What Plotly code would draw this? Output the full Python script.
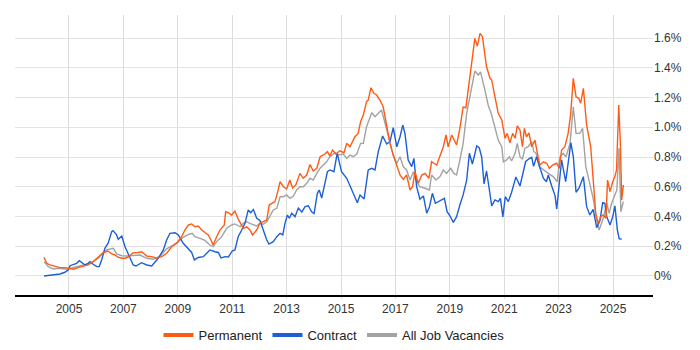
import plotly.graph_objects as go

# ---- data (x = decimal year, y = percent of job vacancies) ----
perm_years = [2004.08, 2004.18, 2004.30, 2004.49, 2004.67, 2004.85, 2005.04, 2005.16, 2005.33, 2005.51,
              2005.70, 2005.88, 2006.02, 2006.14, 2006.25, 2006.43, 2006.57, 2006.69, 2006.80, 2006.94,
              2007.06, 2007.17, 2007.35, 2007.54, 2007.67, 2007.86, 2008.04, 2008.22, 2008.41, 2008.59,
              2008.78, 2008.96, 2009.14, 2009.26, 2009.39, 2009.51, 2009.63, 2009.75, 2009.88, 2010.00,
              2010.12, 2010.22, 2010.30, 2010.43, 2010.55, 2010.71, 2010.76, 2010.86, 2010.98, 2011.10,
              2011.22, 2011.41, 2011.53, 2011.65, 2011.75, 2011.90, 2012.02, 2012.14, 2012.27, 2012.36,
              2012.45, 2012.57, 2012.66, 2012.76, 2012.88, 2013.00, 2013.12, 2013.22, 2013.34, 2013.49,
              2013.61, 2013.74, 2013.86, 2013.98, 2014.11, 2014.23, 2014.33, 2014.41, 2014.50, 2014.59,
              2014.69, 2014.81, 2014.96, 2015.11, 2015.21, 2015.33, 2015.51, 2015.63, 2015.72, 2015.82,
              2015.94, 2016.00, 2016.10, 2016.21, 2016.31, 2016.43, 2016.55, 2016.68, 2016.80, 2016.92,
              2017.05, 2017.17, 2017.29, 2017.41, 2017.54, 2017.63, 2017.72, 2017.84, 2017.97, 2018.09,
              2018.23, 2018.33, 2018.52, 2018.64, 2018.76, 2018.86, 2018.94, 2019.07, 2019.25, 2019.37,
              2019.49, 2019.59, 2019.68, 2019.80, 2019.92, 2020.01, 2020.11, 2020.20, 2020.35, 2020.48,
              2020.54, 2020.66, 2020.78, 2020.91, 2021.03, 2021.11, 2021.21, 2021.31, 2021.40, 2021.48,
              2021.58, 2021.67, 2021.74, 2021.82, 2021.91, 2022.01, 2022.13, 2022.22, 2022.31, 2022.44,
              2022.56, 2022.66, 2022.78, 2022.93, 2023.02, 2023.11, 2023.23, 2023.35, 2023.44, 2023.54,
              2023.64, 2023.74, 2023.81, 2023.91, 2024.03, 2024.18, 2024.27, 2024.37, 2024.46, 2024.55,
              2024.64, 2024.74, 2024.80, 2024.89, 2024.99, 2025.07, 2025.13, 2025.21, 2025.27, 2025.32,
              2025.38]
perm_vals = [0.126, 0.085, 0.074, 0.063, 0.056, 0.056, 0.052, 0.045, 0.056, 0.063,
             0.074, 0.096, 0.119, 0.141, 0.155, 0.168, 0.148, 0.141, 0.126, 0.119,
             0.119, 0.126, 0.155, 0.158, 0.163, 0.134, 0.130, 0.119, 0.130, 0.153,
             0.197, 0.220, 0.264, 0.309, 0.343, 0.350, 0.331, 0.336, 0.309, 0.292,
             0.276, 0.242, 0.208, 0.264, 0.309, 0.343, 0.432, 0.426, 0.410, 0.437,
             0.383, 0.319, 0.331, 0.309, 0.276, 0.309, 0.356, 0.365, 0.376, 0.477,
             0.489, 0.500, 0.556, 0.634, 0.600, 0.585, 0.645, 0.592, 0.612, 0.690,
             0.657, 0.679, 0.750, 0.706, 0.724, 0.800, 0.813, 0.820, 0.836, 0.807,
             0.847, 0.820, 0.842, 0.829, 0.892, 0.869, 0.936, 0.959, 1.037, 1.082,
             1.172, 1.183, 1.266, 1.228, 1.217, 1.183, 1.138, 1.004, 0.892, 0.813,
             0.735, 0.679, 0.650, 0.679, 0.578, 0.600, 0.701, 0.623, 0.679, 0.690,
             0.657, 0.768, 0.746, 0.802, 0.869, 0.948, 0.869, 0.948, 0.881, 0.993,
             1.136, 1.131, 1.250, 1.430, 1.598, 1.546, 1.632, 1.609, 1.407, 1.329,
             1.318, 1.205, 1.094, 1.049, 0.926, 0.959, 0.896, 0.959, 0.926, 1.010,
             0.981, 0.869, 0.993, 0.936, 0.963, 0.869, 0.914, 0.825, 0.746, 0.768,
             0.758, 0.724, 0.746, 0.758, 0.724, 0.847, 0.869, 0.959, 1.082, 1.329,
             1.205, 1.195, 1.161, 1.262, 1.015, 0.869, 0.623, 0.410, 0.354, 0.399,
             0.410, 0.388, 0.645, 0.567, 0.634, 0.668, 0.713, 1.150, 0.892, 0.511,
             0.612]

contract_years = [2004.08, 2004.30, 2004.49, 2004.67, 2004.85, 2004.97, 2005.04, 2005.16, 2005.28, 2005.38,
                  2005.47, 2005.59, 2005.71, 2005.77, 2005.89, 2006.02, 2006.11, 2006.20, 2006.32, 2006.44,
                  2006.57, 2006.62, 2006.75, 2006.81, 2006.94, 2007.06, 2007.18, 2007.36, 2007.46, 2007.67,
                  2007.86, 2008.04, 2008.28, 2008.47, 2008.59, 2008.71, 2008.90, 2009.02, 2009.20, 2009.39,
                  2009.51, 2009.61, 2009.75, 2009.94, 2010.06, 2010.18, 2010.37, 2010.49, 2010.59, 2010.74,
                  2010.86, 2011.00, 2011.10, 2011.22, 2011.35, 2011.47, 2011.59, 2011.68, 2011.78, 2011.90,
                  2012.02, 2012.14, 2012.27, 2012.35, 2012.51, 2012.64, 2012.76, 2012.86, 2012.94, 2013.03,
                  2013.10, 2013.19, 2013.31, 2013.43, 2013.56, 2013.68, 2013.80, 2013.92, 2014.01, 2014.13,
                  2014.20, 2014.29, 2014.41, 2014.50, 2014.59, 2014.74, 2014.86, 2015.02, 2015.21, 2015.33,
                  2015.45, 2015.60, 2015.70, 2015.85, 2016.00, 2016.13, 2016.25, 2016.37, 2016.53, 2016.68,
                  2016.80, 2016.92, 2017.05, 2017.17, 2017.27, 2017.35, 2017.47, 2017.60, 2017.68, 2017.78,
                  2017.90, 2018.03, 2018.15, 2018.25, 2018.36, 2018.47, 2018.70, 2018.80, 2018.90, 2019.01,
                  2019.13, 2019.25, 2019.37, 2019.49, 2019.62, 2019.72, 2019.83, 2019.99, 2020.08, 2020.17,
                  2020.26, 2020.35, 2020.45, 2020.54, 2020.66, 2020.78, 2020.86, 2020.95, 2021.04, 2021.15,
                  2021.27, 2021.43, 2021.58, 2021.70, 2021.79, 2021.91, 2022.01, 2022.08, 2022.19, 2022.31,
                  2022.44, 2022.55, 2022.62, 2022.74, 2022.87, 2022.93, 2022.99, 2023.11, 2023.26, 2023.35,
                  2023.45, 2023.54, 2023.64, 2023.75, 2023.91, 2024.03, 2024.15, 2024.27, 2024.40, 2024.52,
                  2024.62, 2024.70, 2024.77, 2024.89, 2024.99, 2025.07, 2025.16, 2025.23, 2025.32]
contract_vals = [0.000, 0.005, 0.007, 0.013, 0.025, 0.040, 0.069, 0.079, 0.085, 0.103,
                 0.089, 0.074, 0.085, 0.096, 0.079, 0.063, 0.063, 0.108, 0.186, 0.220,
                 0.298, 0.305, 0.276, 0.247, 0.269, 0.197, 0.148, 0.074, 0.067, 0.089,
                 0.074, 0.067, 0.119, 0.175, 0.242, 0.287, 0.291, 0.276, 0.220, 0.186,
                 0.158, 0.108, 0.124, 0.130, 0.153, 0.175, 0.163, 0.158, 0.121, 0.130,
                 0.128, 0.168, 0.175, 0.264, 0.309, 0.354, 0.444, 0.426, 0.447, 0.388,
                 0.373, 0.309, 0.242, 0.214, 0.231, 0.264, 0.287, 0.276, 0.354, 0.410,
                 0.388, 0.422, 0.399, 0.457, 0.430, 0.466, 0.472, 0.432, 0.420, 0.556,
                 0.578, 0.524, 0.623, 0.701, 0.713, 0.701, 0.825, 0.701, 0.657, 0.612,
                 0.556, 0.493, 0.545, 0.518, 0.713, 0.724, 0.713, 0.836, 0.941, 0.887,
                 0.903, 0.997, 0.869, 0.936, 1.015, 0.959, 0.780, 0.735, 0.791, 0.600,
                 0.516, 0.538, 0.422, 0.464, 0.556, 0.489, 0.511, 0.522, 0.432, 0.403,
                 0.360, 0.399, 0.477, 0.545, 0.645, 0.825, 0.753, 0.874, 0.862, 0.802,
                 0.619, 0.706, 0.585, 0.471, 0.511, 0.500, 0.522, 0.397, 0.533, 0.500,
                 0.561, 0.666, 0.605, 0.690, 0.770, 0.788, 0.798, 0.737, 0.802, 0.729,
                 0.657, 0.634, 0.679, 0.608, 0.539, 0.450, 0.556, 0.780, 0.634, 0.768,
                 0.896, 0.802, 0.563, 0.590, 0.668, 0.466, 0.410, 0.448, 0.325, 0.372,
                 0.493, 0.489, 0.399, 0.343, 0.399, 0.471, 0.309, 0.250, 0.248]

all_years = [2004.09, 2004.24, 2004.42, 2004.67, 2004.92, 2005.16, 2005.40, 2005.65, 2005.89, 2006.08,
             2006.26, 2006.39, 2006.63, 2006.75, 2006.94, 2007.12, 2007.36, 2007.61, 2007.86, 2008.10,
             2008.35, 2008.59, 2008.83, 2009.02, 2009.20, 2009.39, 2009.53, 2009.63, 2009.82, 2010.00,
             2010.18, 2010.30, 2010.43, 2010.61, 2010.80, 2010.98, 2011.10, 2011.29, 2011.41, 2011.53,
             2011.65, 2011.78, 2011.90, 2012.02, 2012.14, 2012.27, 2012.39, 2012.51, 2012.64, 2012.76,
             2012.88, 2013.00, 2013.12, 2013.25, 2013.37, 2013.49, 2013.61, 2013.74, 2013.86, 2013.98,
             2014.11, 2014.23, 2014.35, 2014.47, 2014.59, 2014.78, 2014.90, 2015.08, 2015.21, 2015.33,
             2015.45, 2015.58, 2015.72, 2015.82, 2015.94, 2016.13, 2016.25, 2016.37, 2016.49, 2016.62,
             2016.74, 2016.92, 2017.05, 2017.17, 2017.29, 2017.41, 2017.54, 2017.66, 2017.78, 2017.90,
             2018.09, 2018.25, 2018.33, 2018.49, 2018.64, 2018.76, 2018.88, 2019.03, 2019.15, 2019.25,
             2019.37, 2019.49, 2019.62, 2019.74, 2019.84, 2019.92, 2020.05, 2020.13, 2020.29, 2020.41,
             2020.54, 2020.66, 2020.78, 2020.91, 2020.97, 2021.09, 2021.19, 2021.27, 2021.40, 2021.48,
             2021.58, 2021.67, 2021.76, 2021.88, 2022.01, 2022.09, 2022.17, 2022.29, 2022.44, 2022.62,
             2022.80, 2022.95, 2023.05, 2023.17, 2023.27, 2023.42, 2023.54, 2023.64, 2023.78, 2023.88,
             2024.00, 2024.15, 2024.27, 2024.40, 2024.49, 2024.58, 2024.64, 2024.77, 2024.86, 2024.95,
             2025.04, 2025.14, 2025.22, 2025.29, 2025.38]
all_vals = [0.096, 0.063, 0.047, 0.052, 0.045, 0.058, 0.067, 0.079, 0.096, 0.119,
            0.157, 0.175, 0.186, 0.148, 0.136, 0.134, 0.136, 0.141, 0.119, 0.112,
            0.134, 0.182, 0.208, 0.231, 0.260, 0.279, 0.287, 0.264, 0.253, 0.239,
            0.208, 0.197, 0.231, 0.264, 0.321, 0.343, 0.350, 0.331, 0.354, 0.365,
            0.354, 0.343, 0.336, 0.354, 0.348, 0.365, 0.410, 0.444, 0.455, 0.533,
            0.533, 0.545, 0.522, 0.538, 0.578, 0.600, 0.600, 0.623, 0.657, 0.645,
            0.690, 0.724, 0.746, 0.768, 0.802, 0.829, 0.813, 0.820, 0.791, 0.813,
            0.802, 0.820, 0.892, 0.892, 1.004, 1.098, 1.071, 1.094, 1.116, 1.027,
            0.936, 0.813, 0.758, 0.802, 0.735, 0.713, 0.645, 0.701, 0.634, 0.600,
            0.590, 0.578, 0.679, 0.645, 0.668, 0.713, 0.690, 0.724, 0.690, 0.679,
            0.780, 0.892, 1.094, 1.217, 1.318, 1.378, 1.351, 1.373, 1.250, 1.150,
            1.082, 0.993, 0.914, 0.869, 0.768, 0.780, 0.802, 0.773, 0.825, 0.892,
            0.802, 0.785, 0.858, 0.869, 0.903, 0.836, 0.825, 0.735, 0.713, 0.690,
            0.668, 0.634, 0.802, 0.825, 0.802, 0.892, 1.138, 0.959, 0.959, 0.993,
            0.735, 0.623, 0.522, 0.376, 0.309, 0.354, 0.388, 0.489, 0.422, 0.489,
            0.533, 0.578, 0.858, 0.432, 0.500]

series_names = ["Permanent", "Contract", "All Job Vacancies"]
series_colors = ["#ff5b14", "#1c5fd8", "#a3a3a3"]

year_ticks = [2005, 2007, 2009, 2011, 2013, 2015, 2017, 2019, 2021, 2023, 2025]
pct_ticks = [0, 0.2, 0.4, 0.6, 0.8, 1.0, 1.2, 1.4, 1.6]
pct_labels = ["0%", "0.2%", "0.4%", "0.6%", "0.8%", "1.0%", "1.2%", "1.4%", "1.6%"]

fig = go.Figure()

data_sets = [(perm_years, perm_vals), (contract_years, contract_vals), (all_years, all_vals)]
# draw order: gray behind, then blue, then orange on top
for idx in [2, 1, 0]:
    xs, ys = data_sets[idx]
    fig.add_trace(go.Scatter(x=xs, y=ys, mode="lines", name=series_names[idx],
                             line=dict(color=series_colors[idx], width=1.4),
                             showlegend=False, hoverinfo="x+y"))

# legend entries with thick swatches
for idx in [0, 1, 2]:
    fig.add_trace(go.Scatter(x=[None], y=[None], mode="lines", name=series_names[idx],
                             line=dict(color=series_colors[idx], width=4), showlegend=True))

fig.update_layout(
    width=700, height=350,
    margin=dict(l=15, r=47, t=15, b=55),
    paper_bgcolor="white", plot_bgcolor="white",
    font=dict(family="Liberation Sans, Arial, sans-serif", size=12, color="#333333"),
    legend=dict(orientation="h", x=0.5, xanchor="center", xref="paper",
                y=0.043, yanchor="middle", yref="container",
                font=dict(size=13, color="#222222"), itemwidth=30,
                traceorder="normal", bgcolor="rgba(0,0,0,0)"),
    xaxis=dict(range=[2003.015, 2026.47], tickvals=year_ticks,
               ticktext=[str(t) for t in year_ticks], automargin=False,
               showgrid=True, gridcolor="#dcdcdc", gridwidth=1,
               showline=True, linecolor="#000000", linewidth=1.5,
               ticks="outside", ticklen=2, tickcolor="#dcdcdc",
               zeroline=False, tickfont=dict(size=12, color="#333333")),
    yaxis=dict(range=[-0.128, 1.755], side="right", tickvals=pct_ticks, ticktext=pct_labels,
               automargin=False,
               showgrid=True, gridcolor="#e3e3e3", gridwidth=1,
               showline=False, zeroline=False, ticks="",
               tickfont=dict(size=12, color="#333333")),
)

fig.write_html("out.html", config={"displayModeBar": False},
               post_script="document.body.style.margin='0';document.body.style.overflow='hidden';")
